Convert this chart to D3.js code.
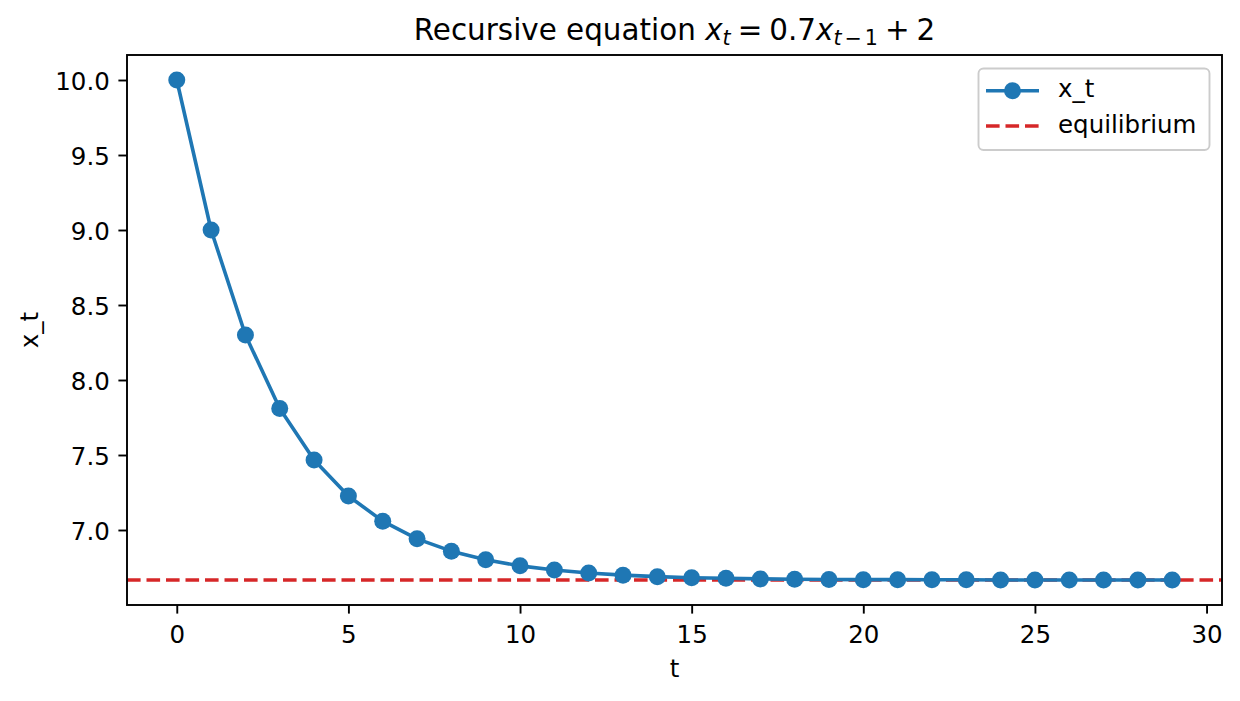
<!DOCTYPE html>
<html>
<head>
<meta charset="utf-8">
<script src="https://cdn.jsdelivr.net/npm/d3@7"></script>
<style>
  body { margin: 0; background: #fff; }
  svg { display: block; font-family: "DejaVu Sans", sans-serif; }
</style>
</head>
<body>
<svg id="chart" width="1240" height="701"></svg>
<script>
// ---- data ----
const tValues = [0,1,2,3,4,5,6,7,8,9,10,11,12,13,14,15,16,17,18,19,20,21,22,23,24,25,26,27,28,29];
const xValues = [10.0, 9.0, 8.3, 7.81, 7.467, 7.227, 7.059, 6.941, 6.859, 6.801,
                 6.761, 6.733, 6.713, 6.699, 6.689, 6.682, 6.678, 6.674, 6.672, 6.670,
                 6.669, 6.669, 6.668, 6.668, 6.667, 6.667, 6.667, 6.667, 6.667, 6.667];
const equilibrium = 6.6667;
const xTicks = [0, 5, 10, 15, 20, 25, 30];
const yTicks = [7.0, 7.5, 8.0, 8.5, 9.0, 9.5, 10.0];
const legendLabels = ["x_t", "equilibrium"];

const blue = "#1f77b4", red = "#d62728";
const svg = d3.select("#chart");
const L = 127, R = 1222, T = 55, B = 605;
const LW = 3.6, MR = 8.5, DASH = "13.6,5.9";

const x = d3.scaleLinear().domain([-1.45, 30.45]).range([L, R]);
const y = d3.scaleLinear().domain([6.5, 10.1667]).range([B, T]);

svg.append("defs").append("clipPath").attr("id", "clip")
  .append("rect").attr("x", L).attr("y", T).attr("width", R - L).attr("height", B - T);

const plot = svg.append("g").attr("clip-path", "url(#clip)");

// equilibrium line
plot.append("line")
  .attr("x1", L).attr("x2", R)
  .attr("y1", y(equilibrium)).attr("y2", y(equilibrium))
  .attr("stroke", red).attr("stroke-width", LW)
  .attr("stroke-dasharray", DASH);

// series line
const pts = tValues.map((t, i) => [t, xValues[i]]);
plot.append("path")
  .datum(pts)
  .attr("fill", "none").attr("stroke", blue).attr("stroke-width", LW)
  .attr("stroke-linejoin", "round").attr("stroke-linecap", "square")
  .attr("d", d3.line().x(d => x(d[0])).y(d => y(d[1])));

plot.selectAll("circle.pt").data(pts).enter().append("circle")
  .attr("class", "pt")
  .attr("cx", d => x(d[0])).attr("cy", d => y(d[1]))
  .attr("r", MR).attr("fill", blue);

// axes
const fs = 24.5;
const xAxis = svg.append("g").attr("transform", `translate(0,${B})`)
  .call(d3.axisBottom(x).tickValues(xTicks).tickFormat(d3.format("d")).tickSize(8.6).tickPadding(8.6));
const yAxis = svg.append("g").attr("transform", `translate(${L},0)`)
  .call(d3.axisLeft(y).tickValues(yTicks).tickFormat(d3.format(".1f")).tickSize(8.6).tickPadding(8.6));
[xAxis, yAxis].forEach(a => {
  a.select(".domain").remove();
  a.selectAll(".tick line").attr("stroke", "#000").attr("stroke-width", 1.9);
  a.selectAll(".tick text").attr("fill", "#000").style("font-size", fs + "px")
    .style("font-family", "'DejaVu Sans', sans-serif");
});
xAxis.selectAll(".tick text").attr("y", 37.5).attr("dy", null);
yAxis.selectAll(".tick text").attr("dy", "0.37em");

// spines
svg.append("rect").attr("x", L).attr("y", T).attr("width", R - L).attr("height", B - T)
  .attr("fill", "none").attr("stroke", "#000").attr("stroke-width", 1.9);

// axis labels
svg.append("text").attr("x", (L + R) / 2).attr("y", 676.5).attr("text-anchor", "middle")
  .style("font-size", fs + "px").text("t");
svg.append("text").attr("transform", `translate(38,${(T + B) / 2}) rotate(-90)`)
  .attr("text-anchor", "middle").style("font-size", fs + "px").text("x_t");

// title with math
const sub = "20.6px";
const title = svg.append("text").attr("x", (L + R) / 2).attr("y", 39.5)
  .attr("text-anchor", "middle").style("font-size", "29.4px");
title.append("tspan").text("Recursive equation ");
title.append("tspan").attr("font-style", "italic").text("x");
title.append("tspan").attr("font-style", "italic").attr("font-size", sub).attr("dy", 5.5).text("t");
title.append("tspan").attr("dy", -5.5).attr("dx", 7).text("=");
title.append("tspan").attr("dx", 7).text("0.7");
title.append("tspan").attr("font-style", "italic").text("x");
title.append("tspan").attr("font-style", "italic").attr("font-size", sub).attr("dy", 5.5).text("t");
title.append("tspan").attr("font-size", sub).attr("dx", 3).text("\u2212");
title.append("tspan").attr("font-size", sub).attr("dx", 3).text("1");
title.append("tspan").attr("dy", -5.5).attr("dx", 7).text("+");
title.append("tspan").attr("dx", 7).text("2");

// legend
const lg = svg.append("g");
lg.append("rect").attr("x", 978.5).attr("y", 68.5).attr("width", 231).attr("height", 81.5)
  .attr("rx", 5).attr("fill", "#fff").attr("fill-opacity", 0.8)
  .attr("stroke", "#cccccc").attr("stroke-width", 1.9);
const rows = [90.7, 126];
lg.append("line").attr("x1", 986).attr("x2", 1039).attr("y1", rows[0]).attr("y2", rows[0])
  .attr("stroke", blue).attr("stroke-width", LW);
lg.append("circle").attr("cx", 1012.5).attr("cy", rows[0]).attr("r", MR).attr("fill", blue);
lg.append("line").attr("x1", 986).attr("x2", 1039).attr("y1", rows[1]).attr("y2", rows[1])
  .attr("stroke", red).attr("stroke-width", LW).attr("stroke-dasharray", DASH);
legendLabels.forEach((lab, i) => {
  lg.append("text").attr("x", 1058).attr("y", rows[i] + 6.5).style("font-size", fs + "px").text(lab);
});
</script>
</body>
</html>
